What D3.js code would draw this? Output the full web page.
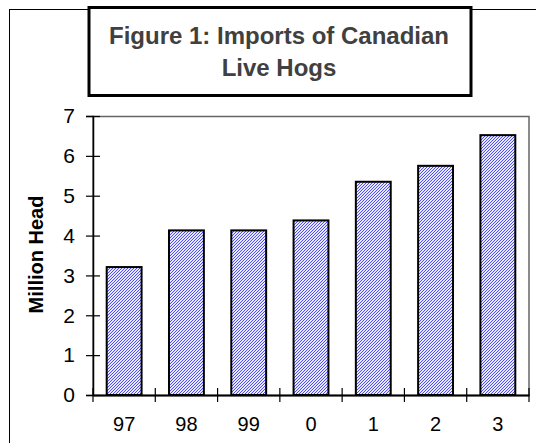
<!DOCTYPE html>
<html>
<head>
<meta charset="utf-8">
<script src="https://cdn.jsdelivr.net/npm/d3@7"></script>
<style>
  html, body { margin: 0; padding: 0; background: #fff; }
  svg { display: block; }
  text { font-family: "Liberation Sans", Arial, sans-serif; }
</style>
</head>
<body>
<svg id="chart" width="536" height="443"></svg>
<script>
const categories = ["97", "98", "99", "0", "1", "2", "3"];
const values = [3.21, 4.13, 4.13, 4.38, 5.35, 5.75, 6.52];
const yTicks = [0, 1, 2, 3, 4, 5, 6, 7];
const titleLines = ["Figure 1: Imports of Canadian", "Live Hogs"];
const yTitle = "Million Head";

const svg = d3.select("#chart");
const W = 536, H = 443;
const plot = { left: 93, right: 529, top: 116, bottom: 395 };

// pattern fill
const defs = svg.append("defs");
const pat = defs.append("pattern")
  .attr("id", "hatch").attr("patternUnits", "userSpaceOnUse")
  .attr("width", 3).attr("height", 3);
pat.append("rect").attr("width", 3).attr("height", 3).attr("fill", "#e8e8ff");
pat.append("path")
  .attr("d", "M-1,1 L1,-1 M0,3 L3,0 M2,4 L4,2")
  .attr("stroke", "#3a3aff").attr("stroke-width", 0.9);

// outer frame
svg.append("rect").attr("x", 9.5).attr("y", 9.5).attr("width", W).attr("height", H)
  .attr("fill", "#fff").attr("stroke", "#000").attr("stroke-width", 1);

const x = d3.scaleBand().domain(categories)
  .range([plot.left, plot.right]).paddingInner(0.44).paddingOuter(0.22);
const y = d3.scaleLinear().domain([0, 7]).range([plot.bottom, plot.top]);

// plot area box
svg.append("rect")
  .attr("x", plot.left).attr("y", plot.top + 0.5)
  .attr("width", plot.right - plot.left).attr("height", plot.bottom - plot.top)
  .attr("fill", "none").attr("stroke", "#666").attr("stroke-width", 1.5);

// bars
svg.append("g").selectAll("rect").data(values).join("rect")
  .attr("x", (d, i) => x(categories[i]))
  .attr("y", d => y(d))
  .attr("width", x.bandwidth())
  .attr("height", d => y(0) - y(d))
  .attr("fill", "url(#hatch)")
  .attr("stroke", "#000").attr("stroke-width", 2);

// y axis
const yAxis = svg.append("g").attr("transform", `translate(${plot.left},0)`)
  .call(d3.axisLeft(y).tickValues(yTicks).tickFormat(d3.format("d"))
    .tickSize(7).tickPadding(11));
yAxis.select(".domain").attr("stroke", "#000").attr("stroke-width", 1.5);
yAxis.selectAll(".tick line").attr("x1", 7).attr("stroke", "#000").attr("stroke-width", 1.2);
yAxis.selectAll(".tick text").attr("font-size", 21).attr("fill", "#000")
  .attr("font-family", "'Liberation Sans', Arial, sans-serif");

// x axis
const xAxis = svg.append("g").attr("transform", `translate(0,${plot.bottom})`)
  .call(d3.axisBottom(x).tickSize(0).tickPadding(22));
xAxis.select(".domain").attr("stroke", "#000").attr("stroke-width", 2);
xAxis.selectAll(".tick text").attr("font-size", 20).attr("fill", "#000")
  .attr("font-family", "'Liberation Sans', Arial, sans-serif");
const step = x.step();
const bounds = d3.range(categories.length + 1).map(i => plot.left + i * step);
svg.append("g").selectAll("line").data(bounds).join("line")
  .attr("x1", d => d).attr("x2", d => d)
  .attr("y1", plot.bottom - 7).attr("y2", plot.bottom + 7)
  .attr("stroke", "#000").attr("stroke-width", 1.2);

// y title
svg.append("text")
  .attr("transform", `translate(43,254.5) rotate(-90)`)
  .attr("text-anchor", "middle")
  .attr("font-size", 20).attr("font-weight", "bold").attr("fill", "#000")
  .text(yTitle);

// title box
svg.append("rect").attr("x", 89).attr("y", 7.5).attr("width", 382).attr("height", 88)
  .attr("fill", "#fff").attr("stroke", "#000").attr("stroke-width", 3);
svg.append("g").selectAll("text").data(titleLines).join("text")
  .attr("x", 279).attr("y", (d, i) => 44 + i * 32)
  .attr("text-anchor", "middle")
  .attr("font-size", 24).attr("font-weight", "bold").attr("fill", "#404040")
  .text(d => d);
</script>
</body>
</html>
